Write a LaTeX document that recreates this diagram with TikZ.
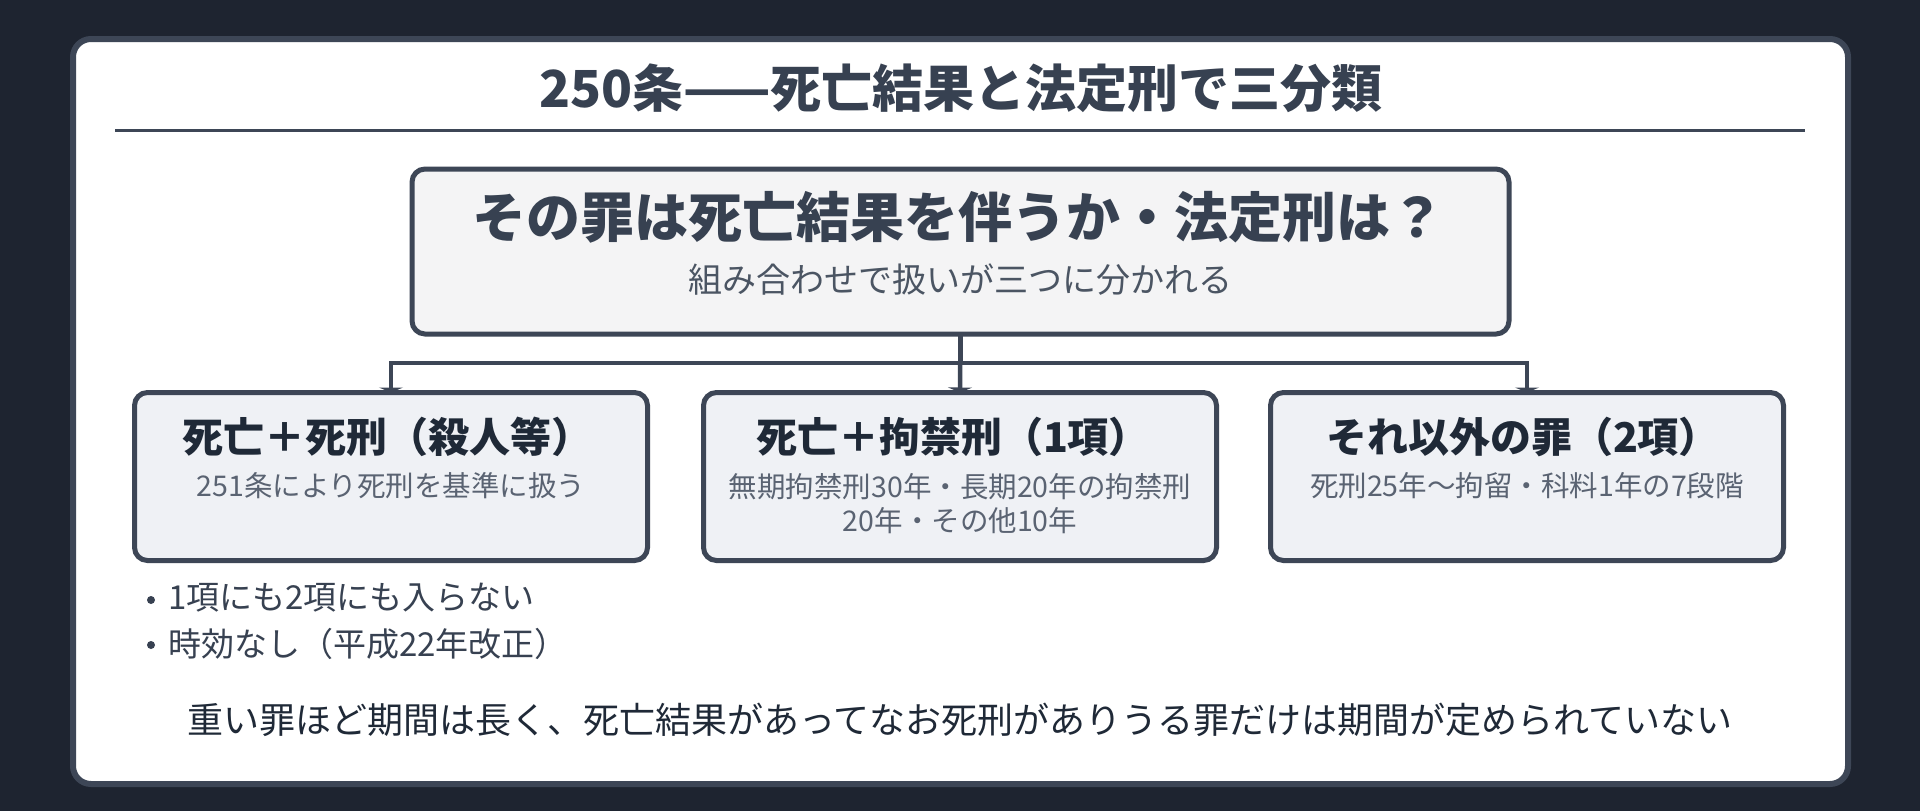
\documentclass[tikz,border=0pt]{standalone}
\usepackage{fontspec}
\setmainfont{Noto Sans CJK JP}
\usetikzlibrary{arrows.meta}
\definecolor{bg}{HTML}{1E2430}
\definecolor{edge}{HTML}{3D4656}
\definecolor{slate}{HTML}{374151}
\definecolor{dark}{HTML}{1F2937}
\definecolor{mid}{HTML}{4B5563}
\definecolor{soft}{HTML}{5A6372}
\definecolor{qfill}{HTML}{F4F4F5}
\definecolor{bfill}{HTML}{EFF1F5}
\tikzset{
  cardbox/.style={draw=edge, line width=6pt, fill=white, rounded corners=18pt,
    minimum width=1775pt, minimum height=745pt, inner sep=0pt, outer sep=0pt},
  qbox/.style={draw=edge, line width=5pt, fill=qfill, rounded corners=13pt,
    minimum width=1097pt, minimum height=165pt, inner sep=0pt, outer sep=0pt},
  catbox/.style={draw=edge, line width=5pt, fill=bfill, rounded corners=13pt,
    minimum width=513pt, minimum height=168pt, inner sep=0pt, outer sep=0pt},
  txt/.style={inner sep=0pt, outer sep=0pt, align=center},
  bulletdot/.style={circle, fill=slate, minimum size=8pt, inner sep=0pt},
  conn/.style={draw=edge, line width=4.5pt, -{Triangle[width=24pt,length=5pt]}},
}
\newcommand{\fs}[1]{\fontsize{#1pt}{#1pt}\selectfont}
\begin{document}
\begin{tikzpicture}[x=1pt,y=-1pt]
\useasboundingbox (0,0) rectangle (1920,811);
\fill[bg] (0,0) rectangle (1920,811);
\node[cardbox] (card) at (960.5,411.5) {};
% title
\node[txt, text=slate] (title) at (961,88) {\fs{51}\bfseries 250条——死亡結果と法定刑で三分類};
\coordinate (ruleL) at (115,130);
\coordinate (ruleR) at (1805,130);
\draw[edge, line width=3pt] (ruleL) -- (ruleR);
% question box
\node[qbox] (q) at (960.5,251.5) {};
\node[txt, text=slate] (qt) at (958,217) {\fs{54}\bfseries その罪は死亡結果を伴うか・法定刑は？};
\node[txt, text=mid] (qs) at (960,280) {\fs{34}組み合わせで扱いが三つに分かれる};
% category boxes
\node[catbox] (b1) at (391,476.5) {};
\node[catbox] (b2) at (960,476.5) {};
\node[catbox] (b3) at (1527,476.5) {};
\node[txt, text=dark] (b1t) at (387,437) {\fs{41}\bfseries 死亡＋死刑（殺人等）};
\node[txt, text=soft] (b1s) at (391,486) {\fs{28.5}251条により死刑を基準に扱う};
\node[txt, text=dark] (b2t) at (953,437) {\fs{41}\bfseries 死亡＋拘禁刑（1項）};
\node[txt, text=soft] (b2s) at (960,487) {\fs{28.5}無期拘禁刑30年・長期20年の拘禁刑};
\node[txt, text=soft] (b2u) at (960,521) {\fs{28.5}20年・その他10年};
\node[txt, text=dark] (b3t) at (1523,437) {\fs{41}\bfseries それ以外の罪（2項）};
\node[txt, text=soft] (b3s) at (1527,486) {\fs{28.5}死刑25年〜拘留・科料1年の7段階};
% connectors
\draw[conn] (q.south) -- ++(0,29) -| (b1.north);
\draw[conn] (q.south) -- (b2.north);
\draw[conn] (q.south) -- ++(0,29) -| (b3.north);
% notes
\node[bulletdot] (d1) at (151,600) {};
\node[txt, text=slate, anchor=west] (n1) at (168,598) {\fs{33}1項にも2項にも入らない};
\node[bulletdot] (d2) at (151,645) {};
\node[txt, text=slate, anchor=west] (n2) at (168,644) {\fs{33}時効なし（平成22年改正）};
% footer
\node[txt, text=dark] (foot) at (960,720) {\fs{36}重い罪ほど期間は長く、死亡結果があってなお死刑がありうる罪だけは期間が定められていない};
\end{tikzpicture}
\end{document}
